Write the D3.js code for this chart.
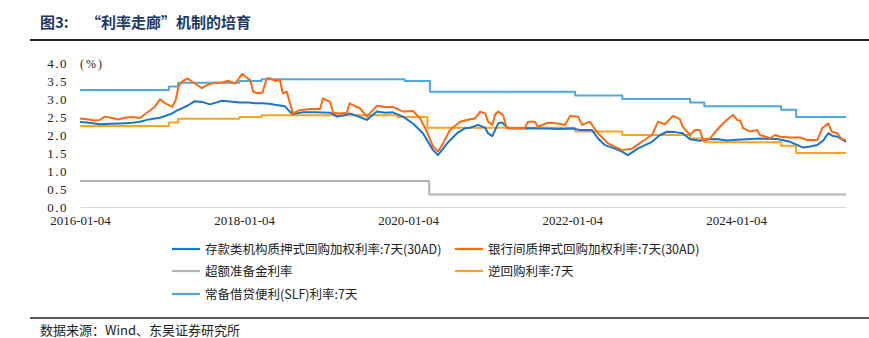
<!DOCTYPE html>
<html><head><meta charset="utf-8">
<script src="https://cdn.jsdelivr.net/npm/d3@7"></script>
<style>
body{margin:0;background:#fff;}
svg text{font-family:"Liberation Serif","Noto Sans CJK SC",serif;}
</style></head>
<body><svg id="c" width="869" height="338"></svg>
<script>
// ---- data ----
const xTickLabels = ["2016-01-04","2018-01-04","2020-01-04","2022-01-04","2024-01-04"];
const yTicks = [0,0.5,1,1.5,2,2.5,3,3.5,4];
const seriesNames = ["存款类机构质押式回购加权利率:7天(30AD)","银行间质押式回购加权利率:7天(30AD)","超额准备金利率","逆回购利率:7天","常备借贷便利(SLF)利率:7天"];
const startDate = "2016-01-04", endDate = "2025-05-07";

const dr007Dates = ["2016-01-04","2016-02-05","2016-03-10","2016-04-01","2016-05-16","2016-06-30","2016-08-14","2016-09-27","2016-10-28","2016-12-03","2016-12-25","2017-01-26","2017-02-18","2017-03-10","2017-04-01","2017-04-28","2017-05-29","2017-06-30","2017-08-04","2017-08-31","2017-09-27","2017-11-02","2017-12-17","2018-01-22","2018-02-22","2018-03-23","2018-04-28","2018-05-20","2018-06-12","2018-07-04","2018-07-26","2018-08-09","2018-09-23","2018-11-15","2019-01-22","2019-02-22","2019-03-28","2019-04-19","2019-06-03","2019-07-04","2019-08-18","2019-09-23","2019-10-28","2019-12-12","2020-01-26","2020-03-10","2020-04-24","2020-05-16","2020-06-26","2020-08-09","2020-09-14","2020-10-06","2020-11-11","2020-12-12","2020-12-25","2021-01-13","2021-02-09","2021-02-26","2021-03-23","2021-04-24","2021-06-30","2021-09-05","2021-11-11","2022-01-04","2022-02-08","2022-04-01","2022-04-28","2022-05-29","2022-07-13","2022-08-13","2022-09-09","2022-10-24","2022-12-25","2023-01-30","2023-03-02","2023-04-06","2023-05-11","2023-06-12","2023-07-26","2023-09-09","2023-10-10","2023-11-24","2024-01-08","2024-02-22","2024-04-19","2024-07-04","2024-08-31","2024-10-28","2024-11-29","2024-12-30","2025-01-26","2025-02-17","2025-03-10","2025-04-01","2025-05-07"];
const dr007Values = [2.36,2.35,2.32,2.30,2.31,2.32,2.33,2.37,2.42,2.46,2.48,2.55,2.60,2.68,2.74,2.82,2.94,2.92,2.85,2.90,2.95,2.93,2.90,2.90,2.88,2.88,2.87,2.84,2.82,2.80,2.65,2.58,2.63,2.63,2.62,2.51,2.55,2.60,2.50,2.42,2.65,2.62,2.63,2.51,2.32,2.05,1.58,1.44,1.77,2.05,2.19,2.20,2.28,2.20,2.05,1.97,2.33,2.35,2.19,2.18,2.19,2.18,2.17,2.18,2.14,2.14,1.91,1.72,1.62,1.54,1.44,1.63,1.81,2.00,2.09,2.08,2.05,1.88,1.84,1.88,1.89,1.85,1.87,1.88,1.90,1.89,1.81,1.65,1.68,1.72,1.85,2.05,1.97,1.95,1.81];

const r007Dates = ["2016-01-04","2016-02-05","2016-03-10","2016-04-01","2016-04-24","2016-05-25","2016-06-21","2016-07-22","2016-08-22","2016-09-27","2016-10-28","2016-12-03","2016-12-25","2017-01-17","2017-02-18","2017-03-05","2017-03-19","2017-04-06","2017-04-28","2017-05-29","2017-06-30","2017-07-26","2017-08-27","2017-09-27","2017-10-24","2017-11-25","2017-12-26","2018-01-17","2018-01-31","2018-02-13","2018-03-05","2018-03-27","2018-04-14","2018-04-28","2018-05-20","2018-06-12","2018-06-25","2018-07-13","2018-07-26","2018-08-09","2018-09-09","2018-10-24","2018-12-08","2018-12-21","2019-01-22","2019-02-04","2019-03-05","2019-04-06","2019-04-19","2019-05-12","2019-06-03","2019-07-04","2019-08-18","2019-09-23","2019-10-28","2019-12-12","2020-01-26","2020-02-27","2020-03-28","2020-04-24","2020-05-16","2020-06-08","2020-07-08","2020-08-22","2020-10-06","2020-10-28","2020-11-20","2020-12-12","2020-12-25","2021-01-13","2021-01-26","2021-02-09","2021-03-02","2021-03-19","2021-04-24","2021-06-07","2021-06-21","2021-07-22","2021-08-04","2021-09-18","2021-11-02","2021-12-03","2021-12-25","2022-01-30","2022-02-17","2022-03-23","2022-04-28","2022-06-12","2022-08-13","2022-09-27","2022-11-11","2022-12-25","2023-01-21","2023-02-21","2023-03-28","2023-04-28","2023-05-11","2023-06-12","2023-07-04","2023-07-26","2023-08-09","2023-09-09","2023-10-10","2023-11-06","2023-11-24","2023-12-21","2024-01-08","2024-01-22","2024-02-04","2024-03-05","2024-04-06","2024-04-19","2024-06-03","2024-06-25","2024-07-17","2024-08-31","2024-10-15","2024-11-15","2024-12-30","2025-01-21","2025-02-17","2025-03-05","2025-03-28","2025-04-19","2025-05-07"];
const r007Values = [2.46,2.44,2.40,2.42,2.51,2.47,2.43,2.48,2.50,2.47,2.62,2.79,2.99,2.88,2.78,2.97,3.38,3.50,3.57,3.43,3.30,3.40,3.45,3.46,3.50,3.43,3.70,3.58,3.53,3.20,3.16,3.18,3.57,3.58,3.50,3.52,3.16,3.20,2.90,2.60,2.69,2.72,2.72,3.02,2.92,2.62,2.60,2.62,2.88,2.80,2.75,2.51,2.81,2.78,2.78,2.65,2.67,2.46,2.09,1.68,1.54,1.77,2.14,2.37,2.44,2.46,2.65,2.60,2.37,2.28,2.58,2.65,2.55,2.19,2.19,2.19,2.37,2.37,2.23,2.34,2.32,2.28,2.53,2.51,2.28,2.37,2.05,1.77,1.58,1.62,1.82,2.00,2.37,2.30,2.53,2.44,2.23,2.00,2.14,2.14,1.86,1.90,2.14,2.32,2.42,2.56,2.42,2.40,2.19,2.10,2.14,2.00,1.91,2.00,1.95,1.93,1.93,1.86,1.86,2.19,2.32,2.09,2.05,1.88,1.86];

const iorDates = ["2016-01-04","2020-04-07","2025-05-07"];
const iorValues = [0.72,0.35,0.35];

const rrDates = ["2016-01-04","2017-02-03","2017-03-16","2017-12-14","2018-03-22","2019-11-18","2020-03-30","2022-01-17","2022-08-15","2023-06-13","2023-08-15","2024-07-22","2024-09-27","2025-05-07"];
const rrValues = [2.25,2.35,2.45,2.50,2.55,2.50,2.20,2.10,2.00,1.90,1.80,1.70,1.50,1.50];

const slfDates = ["2016-01-04","2017-02-03","2017-03-16","2017-12-14","2018-03-22","2019-12-20","2020-04-10","2022-01-17","2022-08-15","2023-06-13","2023-08-15","2024-07-22","2024-09-27","2025-05-07"];
const slfValues = [3.25,3.35,3.45,3.50,3.55,3.50,3.20,3.10,3.00,2.90,2.80,2.70,2.50,2.50];

const colors = ["#1776CF","#FF6A10","#B4B4B4","#FFA31A","#4DA8E2"];

// ---- drawing ----
const parse = d3.timeParse("%Y-%m-%d");
const svg = d3.select("#c");
const x = d3.scaleTime().domain([parse(startDate), parse(endDate)]).range([80, 846]);
const y = d3.scaleLinear().domain([0,4]).range([207, 63]);

// title
svg.append("text").attr("x",40).attr("y",28).attr("fill","#1F3864")
  .style("font-size","15px").style("font-weight","bold")
  .style("font-family","'Noto Sans CJK SC',sans-serif")
  .text("图3:");
svg.append("text").attr("x",86).attr("y",28).attr("fill","#1F3864")
  .style("font-size","15px").style("font-weight","bold")
  .style("font-family","'Noto Sans CJK SC',sans-serif")
  .text("“利率走廊”机制的培育");
svg.append("line").attr("x1",30).attr("x2",869).attr("y1",40).attr("y2",40)
  .attr("stroke","#222").attr("stroke-width",2);

// axes
const xAxis = d3.axisBottom(x).tickValues(xTickLabels.map(parse)).tickFormat(d3.timeFormat("%Y-%m-%d")).tickSize(0).tickPadding(9);
const gx = svg.append("g").attr("transform","translate(0,207)").call(xAxis);
gx.select(".domain").attr("stroke","#D9D9D9").attr("stroke-width",1.2);
gx.selectAll("text").style("font-size","13px").attr("fill","#222").style("font-family","'Liberation Serif',serif");

const yAxis = d3.axisLeft(y).tickValues(yTicks).tickFormat(d3.format(".1f")).tickSize(0).tickPadding(12);
const gy = svg.append("g").attr("transform","translate(80,0)").call(yAxis);
gy.select(".domain").remove();
gy.selectAll("text").style("font-size","13px").attr("fill","#222").style("letter-spacing","1.5px").style("font-family","'Liberation Serif',serif");

svg.append("text").attr("x",80).attr("y",68).style("font-size","12px").attr("fill","#222")
  .style("letter-spacing","2px").text("(%)");

function mk(dates, vals){ return dates.map((d,i)=>({d:parse(d), v:vals[i]})); }
const lineJag = d3.line().x(p=>x(p.d)).y(p=>y(p.v)).curve(d3.curveLinear);
const lineStep = d3.line().x(p=>x(p.d)).y(p=>y(p.v)).curve(d3.curveStepAfter);

const layers = [
  {data:mk(iorDates,iorValues), c:colors[2], l:lineStep},
  {data:mk(slfDates,slfValues), c:colors[4], l:lineStep},
  {data:mk(rrDates,rrValues), c:colors[3], l:lineStep},
  {data:mk(dr007Dates,dr007Values), c:colors[0], l:lineJag},
  {data:mk(r007Dates,r007Values), c:colors[1], l:lineJag}
];
layers.forEach(L=>{
  svg.append("path").datum(L.data).attr("d",L.l).attr("fill","none")
    .attr("stroke",L.c).attr("stroke-width",2).attr("stroke-linejoin","round");
});

// legend
const legPos = [[172,249],[455,249],[172,271],[455,271],[172,294]];
seriesNames.forEach((n,i)=>{
  const [lx,ly] = legPos[i];
  svg.append("line").attr("x1",lx).attr("x2",lx+28).attr("y1",ly).attr("y2",ly)
    .attr("stroke",colors[i]).attr("stroke-width",2.2);
  svg.append("text").attr("x",lx+33).attr("y",ly+4.5).style("font-size","12.5px").attr("fill","#222")
    .style("font-family","'Noto Sans CJK SC',sans-serif").text(n);
});

// footer
svg.append("line").attr("x1",30).attr("x2",869).attr("y1",318).attr("y2",318)
  .attr("stroke","#222").attr("stroke-width",1.5);
svg.append("text").attr("x",40).attr("y",335).style("font-size","13px").attr("fill","#222")
  .style("font-family","'Noto Sans CJK SC',sans-serif").text("数据来源：Wind、东吴证券研究所");
</script></body></html>
